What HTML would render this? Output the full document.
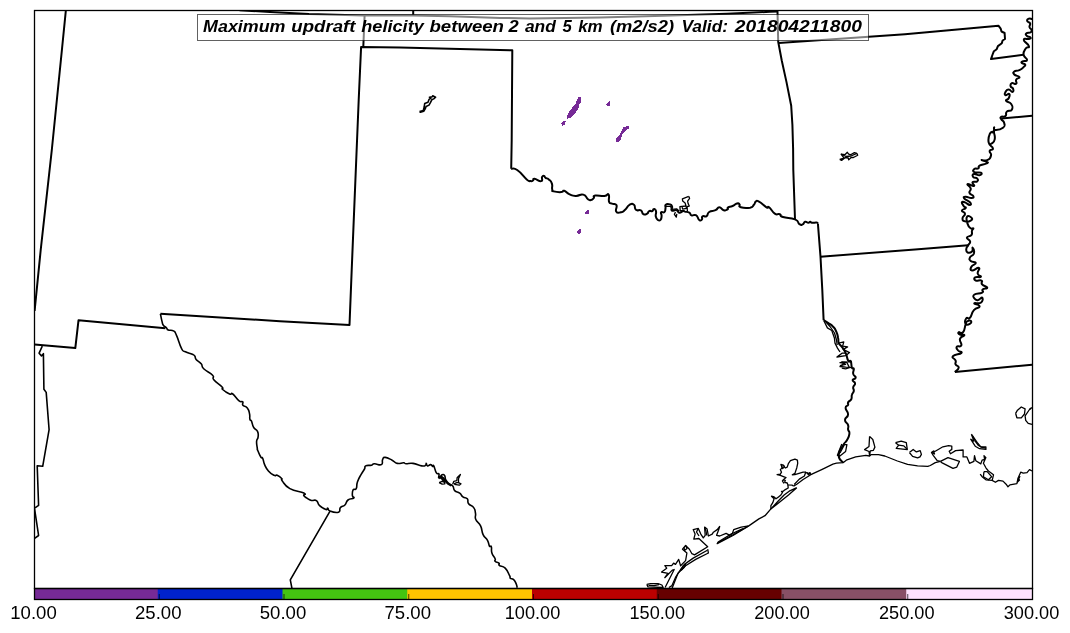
<!DOCTYPE html>
<html><head><meta charset="utf-8"><title>Maximum updraft helicity</title>
<style>
html,body{margin:0;padding:0;background:#fff;}
body{width:1070px;height:633px;overflow:hidden;position:relative;font-family:"Liberation Sans",sans-serif;}
</style></head><body>
<svg width="1070" height="633" viewBox="0 0 1070 633" style="position:absolute;left:0;top:0">
<rect x="0" y="0" width="1070" height="633" fill="#fff"/>
<defs><clipPath id="ax"><rect x="34.5" y="10.5" width="998.0" height="578.0"/></clipPath></defs>
<g clip-path="url(#ax)">
<path d="M578.2,97.1 L581.0,97.1 L581.0,102.1 L578.9,105.4 L578.4,108.7 L575.1,113.4 L571.3,117.7 L567.5,118.6 L567.1,115.3 L569.9,110.6 L575.6,103.5 L577.5,99.2 Z" fill="#762a96" stroke="none" shape-rendering="crispEdges"/>
<path d="M560.9,123.4 L563.3,121.0 L565.9,121.2 L564.2,125.3 L562.3,125.8 Z" fill="#762a96" stroke="none" shape-rendering="crispEdges"/>
<path d="M605.9,104.4 L609.2,101.1 L609.9,101.1 L609.9,105.9 L607.8,105.9 Z" fill="#762a96" stroke="none" shape-rendering="crispEdges"/>
<path d="M623.5,127.2 L628.7,125.9 L628.7,128.6 L624.9,131.0 L622.5,134.3 L620.1,141.4 L616.2,141.7 L616.2,138.6 L619.2,135.7 L621.6,130.5 Z" fill="#762a96" stroke="none" shape-rendering="crispEdges"/>
<path d="M585.1,214.0 L589.1,214.0 L589.1,210.0 L587.3,210.4 L585.1,212.8 Z" fill="#762a96" stroke="none" shape-rendering="crispEdges"/>
<path d="M577.0,231.7 L579.7,229.0 L580.9,229.1 L580.9,232.9 L579.0,233.9 L577.4,232.9 Z" fill="#762a96" stroke="none" shape-rendering="crispEdges"/>
<g fill="none" stroke="#000" stroke-linejoin="round" stroke-linecap="butt">
<g stroke-width="1.3">
<path d="M688.7,196.4 L682.4,198.8 L682.7,201.1 L685.1,203.0 L686.0,206.0 L679.9,206.6 L680.2,210.5 L683.2,211.0"/>
<path d="M688.7,196.4 L689.6,198.3 L687.6,201.1 L688.2,203.8 L689.3,206.0 L687.1,206.6 L687.4,211.5"/>
<path d="M686.0,206.0 L686.5,208.3 L682.7,209.1 L682.1,207.1"/>
<path d="M675.5,212.1 L674.4,214.3 L676.3,217.1 L676.8,213.8"/>
<path d="M666.0,206.3 L670.5,206.3 L671.8,209.3 L676.6,208.8 L679.3,211.3"/>
<path d="M839.7,159.4 L844.0,158.0 L841.1,154.2 L844.9,154.7 L847.3,152.3 L848.7,154.2 L850.6,154.7 L854.4,152.6 L856.8,153.3 L857.7,155.2 L853.4,157.5 L851.1,157.5 L848.7,159.9 L848.2,158.0 L845.4,157.5 L841.6,160.4 L839.7,159.4"/>
<path d="M841.1,154.2 L846.0,156.5 L851.0,156.0 L856.8,153.3"/>
<path d="M439.1,482.7 L442.1,481.3 L444.4,482.1 L444.9,483.8 L442.1,484.1 L439.1,482.7"/>
<path d="M452.7,484.3 L453.8,481.3 L456.8,480.7 L457.1,477.7 L460.4,474.4 L458.5,478.8 L458.5,482.7 L461.0,483.8 L459.3,485.2 L454.3,484.3"/>
<path d="M453.8,483.8 L456.8,482.7 L458.5,482.7"/>
<path d="M824.0,321.0 L827.4,327.9 L831.8,330.5 L834.4,338.0 L835.0,343.1 L837.5,348.1 L840.0,352.0"/>
<path d="M826.0,322.0 L830.0,326.5 L834.5,333.0 L836.5,340.0 L837.2,345.0"/>
<path d="M838.8,343.1 L843.8,341.8 L842.6,346.2 L847.6,346.9 L843.2,349.4 L849.5,352.6 L845.7,355.7 L836.9,357.0 L842.0,353.2 L845.7,353.2"/>
<path d="M848.3,360.8 L851.4,361.4 L840.0,362.7 L844.5,363.3 L840.0,366.5 L845.7,367.1 L851.9,367.6"/>
<path d="M839.9,365.7 L845.6,364.4 L841.8,361.9 L846.9,362.5 L849.4,367.6 L845.6,368.8 L841.8,368.2"/>
<path d="M841.8,444.0 L837.4,455.3 L839.9,456.0 L845.6,451.5 L846.9,444.6 L844.4,444.6 L840.0,453.0"/>
<path d="M793.6,486.1 L796.8,484.2 L803.1,479.5 L810.8,474.7 L822.2,469.3 L832.9,464.2 L836.5,463.2 L843.1,462.7 L846.9,459.8 L855.7,456.9 L865.8,455.3 L869.6,456.0 L870.9,454.7 L878.5,454.7 L884.8,456.0 L897.4,461.0 L907.6,464.4 L917.6,465.8 L927.8,466.4 L930.3,465.5 L935.3,462.6 L940.4,461.4"/>
<path d="M869.6,436.4 L869.0,446.5 L864.6,449.6 L869.0,451.5 L869.6,455.3 L870.3,450.9 L873.4,450.3 L874.9,447.1 L872.8,439.5 L869.6,436.4"/>
<path d="M895.5,442.7 L901.2,441.2 L906.3,442.7 L907.3,449.6 L896.2,448.4 L898.7,445.2 L895.5,442.7"/>
<path d="M898.7,445.2 L903.8,445.9 L906.9,449.0"/>
<path d="M909.4,452.5 L913.2,449.4 L916.4,451.9 L920.2,450.6 L921.4,454.4 L920.0,456.8 L917.6,457.8 L912.6,456.3 L909.4,452.5"/>
<path d="M940.4,461.4 L937.2,460.7 L933.4,455.7 L931.5,452.5 L935.3,451.2 L942.9,446.8 L948.6,445.6 L951.8,446.2 L951.8,449.4 L949.2,451.2 L950.5,453.8 L955.6,450.6 L963.1,450.0 L963.1,456.9 L966.9,456.9 L969.5,463.3 L973.9,461.4 L974.5,455.7 L975.8,460.7 L980.8,463.9 L982.1,460.1 L984.6,459.5 L984.0,455.7 L985.9,457.6 L983.4,463.3 L985.9,467.8 L988.4,471.0 L993.5,474.8 L992.2,480.4 L995.4,482.3 L998.5,480.4 L1003.0,481.1 L1006.1,484.2 L1008.0,486.8 L1009.9,484.9 L1016.9,483.6 L1018.1,477.9 L1020.7,472.2 L1023.2,473.1 L1027.0,472.6 L1029.5,469.7 L1032.0,471.0"/>
<path d="M931.5,452.5 L933.5,451.0 L934.5,454.0 L931.5,452.5"/>
<path d="M940.4,461.4 L948.0,457.6 L959.4,461.4 L956.8,467.1 L953.0,468.3 L941.7,462.6 L940.4,461.4"/>
<path d="M980.2,474.1 L982.1,476.7 L985.9,479.8 L992.2,480.4"/>
<path d="M984.0,471.6 L983.4,476.7 L988.4,479.8 L991.6,476.7 L987.2,471.6 L984.0,471.6"/>
<path d="M1018.1,477.9 L1019.5,480.0 L1017.5,482.0 L1020.0,476.0"/>
<path d="M971.4,434.2 L977.1,442.4 L980.8,446.8 L985.9,446.8 L985.9,449.4 L979.6,448.7 L975.2,446.2 L970.7,439.2 L973.9,441.1 L971.4,434.2"/>
<path d="M972.5,436.0 L975.5,441.5 L978.5,445.5 L982.0,447.5 L985.9,448.0"/>
<path d="M1015.6,413.3 L1017.5,410.2 L1021.3,407.0 L1025.1,408.9 L1024.5,414.0 L1021.3,417.8 L1016.9,417.8 L1015.6,413.3"/>
<path d="M1032.0,407.6 L1029.5,409.5 L1025.1,415.9 L1025.7,420.3 L1028.2,423.4 L1032.0,424.3"/>
<path d="M1029.5,409.5 L1031.0,408.0"/>
<path d="M805.7,472.2 L803.1,472.2 L794.9,474.7 L792.3,474.8 L794.9,473.4 L796.8,467.7 L797.7,463.3 L797.4,460.1 L794.9,459.1 L790.4,460.7 L788.5,463.3 L787.2,467.1 L785.3,468.0 L783.4,465.2 L780.9,464.5 L782.2,467.7 L780.3,469.6 L781.5,472.2 L780.3,474.1 L777.1,474.7 L780.3,475.3 L786.0,477.6 L783.4,479.8 L785.3,480.4 L784.7,482.3 L787.2,483.0 L787.9,484.9 L792.3,485.2 L793.6,486.1"/>
<path d="M787.9,484.9 L788.2,488.0 L785.3,489.6 L782.8,491.5 L781.5,491.5 L782.5,492.5 L780.9,495.0 L778.5,496.9 L776.0,498.8 L774.1,496.9 L771.5,496.2 L774.1,498.8 L772.8,502.6 L770.9,505.7 L770.9,508.9"/>
<path d="M783.4,465.2 L784.4,467.0 L782.6,468.5 L781.6,466.0"/>
<path d="M783.4,479.8 L782.4,481.0 L784.0,483.5"/>
<path d="M810.8,474.7 L809.5,472.8 L808.0,473.6 L805.7,472.2 L804.4,476.0 L799.3,479.1 L794.2,484.5"/>
<path d="M807.0,472.3 L808.5,474.8 L810.0,472.6 L810.5,474.8"/>
<path d="M796.8,487.7 L789.2,491.2 L784.1,495.0 L778.5,500.7 L770.9,508.9 L776.0,505.1 L788.5,495.0 L796.8,487.7"/>
<path d="M770.9,508.9 L765.0,515.7 L758.9,518.9 L748.8,525.9"/>
<path d="M748.8,525.9 L741.2,527.1 L733.7,529.6 L732.4,533.4 L729.9,535.3 L726.1,533.4 L719.7,536.0 L716.6,535.3 L718.5,530.3 L719.7,526.5 L717.2,529.6 L713.4,532.2 L712.2,534.1 L708.4,536.0 L707.1,529.0 L704.6,527.1 L705.2,535.3 L703.3,537.9 L700.8,534.1 L698.3,528.4 L693.2,529.6 L695.1,534.1 L693.8,539.1 L698.9,538.5 L707.7,546.7 L694.5,554.9 L691.9,553.7 L689.4,549.2 L685.6,545.5 L682.5,549.2 L686.9,553.0 L685.6,560.6 L680.6,565.7 L678.7,559.4 L675.5,564.4 L673.6,563.1 L671.7,565.7 L664.8,565.7 L666.7,568.2 L661.6,572.0 L667.9,573.3 L664.8,577.7 L672.3,570.1 L674.2,569.5 L665.1,587.5"/>
<path d="M685.6,545.5 L687.0,548.5 L684.5,550.5 L684.0,547.0"/>
<path d="M704.6,527.1 L706.0,531.0 L706.8,535.5"/>
<path d="M698.3,528.4 L696.5,532.0 L699.0,536.0"/>
<path d="M748.8,525.9 L733.0,535.5 L717.2,543.6 L718.5,541.7 L731.1,534.1 L743.0,528.5"/>
<path d="M717.5,543.0 L733.0,534.8 L748.0,526.2"/>
<path d="M707.7,549.2 L708.4,553.0 L695.7,559.4 L685.6,565.7 L678.0,573.3 L672.0,588.4"/>
<path d="M707.4,550.2 L693.2,558.1 L684.4,564.4 L680.6,569.5 L675.8,576.8 L672.0,585.6 L668.9,587.5"/>
<path d="M686.0,564.1 L683.0,566.0 L681.5,570.0 L684.0,567.5 L686.0,564.1"/>
<path d="M646.8,584.4 L650.6,583.7 L658.1,583.7 L661.9,585.0 L663.2,587.5 L648.0,586.9 L646.8,584.4"/>
<path d="M648.5,585.3 L654.0,585.6 L659.0,584.6"/>
</g>
<g stroke-width="1.6">
<path d="M42.3,346.1 L39.1,353.2 L41.5,355.9 L43.4,353.7 L43.9,389.2 L46.2,392.4 L49.1,429.7 L42.7,466.3 L37.2,465.8 L37.7,480.0 L38.6,505.3 L34.6,508.1"/>
<path d="M34.6,509.0 L38.6,535.5 L34.6,538.3"/>
<path d="M329.9,511.3 L290.3,579.8 L291.9,588.1"/>
<path d="M419.5,111.5 L423.3,110.5 L424.2,107.0 L424.7,103.6 L428.0,102.2 L429.0,99.4 L430.9,98.2 L429.4,97.2 L432.3,96.8 L432.7,95.8 L435.6,97.2 L433.7,98.9 L431.8,99.8 L430.4,102.7 L429.0,105.1 L426.1,106.5 L425.2,108.9 L423.7,111.2 L420.4,112.2 L419.5,111.5"/>
</g>
<g stroke-width="1.6">
<path d="M160.4,313.8 C160.8,315.8 161.2,318.4 162.0,321.4 C162.8,324.4 162.1,323.5 163.3,325.2 C164.5,326.9 165.1,326.5 166.4,327.8 C167.7,329.1 166.4,329.2 168.3,330.0 C170.2,330.8 171.2,329.5 173.4,330.9 C175.6,332.3 174.3,330.6 176.5,335.3 C178.7,340.0 179.2,344.2 181.6,348.6 C184.0,353.0 182.5,350.3 185.4,351.8 C188.3,353.3 189.8,353.1 192.3,354.3 C194.8,355.5 193.9,354.8 194.9,356.2 C195.9,357.6 194.4,357.4 196.1,359.4 C197.8,361.4 199.2,361.3 201.2,363.8 C203.2,366.3 200.7,365.8 203.7,368.8 C206.7,371.8 209.9,372.3 212.6,375.2 C215.3,378.1 211.3,376.7 213.8,379.8 C216.3,382.9 219.7,384.4 222.1,387.0 C224.5,389.6 220.7,387.6 222.7,389.5 C224.7,391.4 226.9,392.8 229.6,394.0 C232.3,395.2 230.3,392.2 232.8,394.0 C235.3,395.8 236.5,398.8 239.1,400.9 C241.7,403.0 241.7,400.6 242.7,401.8 C243.7,403.0 241.7,403.7 242.9,405.3 C244.1,406.9 245.5,405.7 247.3,407.9 C249.1,410.1 248.8,410.6 249.5,413.6 C250.2,416.6 249.4,417.2 249.9,419.2 C250.4,421.2 250.5,418.9 251.5,421.1 C252.5,423.3 252.1,424.8 253.7,427.5 C255.3,430.2 256.3,428.8 257.5,431.3 C258.7,433.8 258.3,434.2 258.1,436.9 C257.9,439.6 256.8,438.4 256.6,441.4 C256.4,444.4 257.0,446.0 257.3,448.3 C257.6,450.6 256.7,447.8 257.6,450.1 C258.5,452.4 259.4,454.8 260.8,457.0 C262.2,459.2 261.7,456.3 262.7,458.3 C263.7,460.3 263.1,461.2 264.6,464.6 C266.1,468.0 265.9,468.0 268.4,470.9 C270.9,473.8 271.8,474.1 274.1,475.3 C276.4,476.5 275.2,474.4 277.2,475.3 C279.2,476.2 280.3,477.0 281.7,478.5 C283.1,480.0 280.1,478.3 282.3,481.0 C284.5,483.7 284.2,485.4 289.9,488.6 C295.6,491.8 300.1,491.1 303.8,493.0 C307.5,494.9 303.0,494.2 303.8,495.6 C304.6,497.0 304.9,496.8 306.9,498.1 C308.9,499.4 308.9,499.7 311.4,500.4 C313.9,501.1 314.2,499.2 316.4,500.6 C318.6,502.0 317.1,503.3 319.6,505.7 C322.1,508.1 323.7,508.8 325.9,509.5 C328.1,510.2 326.7,507.8 327.8,508.2 C328.9,508.6 327.0,509.9 329.9,511.0 C332.8,512.1 335.7,513.1 338.5,512.2 C341.3,511.3 338.7,509.5 340.4,507.6 C342.1,505.7 342.9,507.0 344.9,505.0 C346.9,503.0 345.7,501.8 348.0,500.0 C350.3,498.2 352.5,499.3 353.7,498.1 C354.9,496.9 352.6,497.8 352.4,495.6 C352.2,493.4 352.1,491.8 353.1,489.9 C354.1,488.0 355.0,490.8 356.2,488.6 C357.4,486.4 356.1,485.6 357.5,481.7 C358.9,477.8 359.4,477.5 361.3,474.1 C363.2,470.7 363.3,471.2 364.5,469.0 C365.7,466.8 363.9,466.9 365.7,465.9 C367.5,464.9 369.1,465.8 371.4,465.2 C373.7,464.6 371.7,464.0 374.4,463.8 C377.1,463.6 379.2,465.7 381.4,464.6 C383.6,463.5 381.6,461.5 382.6,459.6 C383.6,457.7 382.7,457.2 385.2,457.4 C387.7,457.6 388.9,458.6 392.1,460.2 C395.3,461.8 394.2,462.7 397.2,463.4 C400.2,464.1 401.2,462.7 403.5,462.8 C405.8,462.9 403.5,463.6 406.0,463.8 C408.5,464.0 408.8,462.8 413.0,463.4 C417.2,464.0 418.4,465.4 421.8,465.9 C425.2,466.4 424.4,466.0 425.6,465.3 C426.8,464.6 425.8,463.2 426.3,463.4 C426.8,463.6 426.3,465.6 427.5,465.9 C428.7,466.2 429.3,464.4 430.7,464.6 C432.1,464.8 431.8,466.2 432.6,466.5 C433.4,466.8 432.8,464.2 433.8,465.9 C434.8,467.6 435.0,470.8 436.4,472.9 C437.8,475.0 438.2,472.6 438.9,473.9 C439.6,475.2 438.0,477.7 438.9,477.9 C439.8,478.1 440.6,475.5 442.1,474.8 C443.6,474.1 443.6,474.1 444.6,475.4 C445.6,476.7 444.6,477.6 445.8,479.8 C447.0,482.0 447.1,481.9 449.0,483.6 C450.9,485.3 451.3,484.2 452.8,486.1 C454.3,488.0 452.9,488.7 454.7,490.6 C456.5,492.5 457.5,491.4 459.7,493.1 C461.9,494.8 460.9,495.4 462.9,496.9 C464.9,498.4 465.8,497.0 467.3,498.8 C468.8,500.6 466.9,501.5 468.6,503.8 C470.3,506.1 471.9,505.1 473.7,507.6 C475.5,510.1 474.9,510.1 475.5,513.3 C476.1,516.5 474.4,516.2 475.8,519.5 C477.2,522.8 478.7,521.8 480.6,525.8 C482.5,529.8 481.3,530.7 483.1,534.6 C484.9,538.5 485.8,537.3 487.5,540.3 C489.2,543.3 488.4,544.3 489.4,546.0 C490.4,547.7 490.6,544.8 491.3,546.7 C492.0,548.6 490.9,549.8 491.9,553.0 C492.9,556.2 494.2,556.5 495.1,558.7 C496.0,560.9 494.1,560.0 495.1,561.2 C496.1,562.4 497.7,561.9 498.9,563.1 C500.1,564.3 497.8,564.3 499.5,565.6 C501.2,566.9 502.5,565.4 505.2,568.1 C507.9,570.8 508.2,573.0 509.6,575.7 C511.0,578.4 509.3,577.3 510.3,578.3 C511.3,579.3 511.9,578.0 513.4,579.3 C514.9,580.6 515.0,581.1 516.0,583.3 C517.0,585.5 516.9,586.5 517.2,587.7"/>
</g>
<g stroke-width="2.0">
<path d="M65.9,10.0 L62.1,48.0 L51.8,150.0 L40.7,250.0 L34.6,311.0"/>
<path d="M34.6,344.5 L75.3,348.1 L78.5,320.3 L165.4,328.3"/>
<path d="M160.4,313.8 L280.0,321.2 L349.5,325.0 L351.7,270.0 L358.7,100.0 L361.1,46.9 L400.0,47.5 L512.3,50.3 L511.7,140.0 L511.2,168.8"/>
<path d="M817.9,223.6 L820.5,256.7 L822.3,290.0 L823.6,320.1"/>
<path d="M364.6,15.6 L363.3,46.9 L361.1,46.9"/>
<path d="M239.5,10.3 L270.0,12.0 L309.0,14.0 L363.5,15.4 L413.0,15.6 L450.0,16.3 L500.0,17.9 L530.0,18.4 L600.0,17.4 L663.6,15.8 L727.0,13.7 L770.0,11.8 L777.5,11.6"/>
<path d="M413.2,10.0 L413.2,15.6"/>
<path d="M777.3,10.0 L777.5,11.7 L778.2,41.8 L781.8,60.8 L786.5,82.1 L791.2,105.8 L792.4,124.8 L793.1,148.5 L793.3,170.0 L795.0,219.3"/>
<path d="M778.6,43.0 L905.0,34.3 L998.6,25.8 L1000.7,28.7 L1001.5,31.5 L1004.6,33.0 L1005.0,39.0 L1002.6,40.5 L1001.8,43.3 L997.9,46.1 L996.7,49.2 L993.9,51.2 L992.4,55.0 L991.0,59.1 L1023.4,54.7"/>
<path d="M954.9,372.0 L1032.0,364.7"/>
<path d="M1001.5,118.6 L1032.0,115.8"/>
<path d="M820.5,256.7 L915.0,249.4 L968.2,245.2"/>
<path d="M439.2,478.3 L441.6,476.8 L443.6,478.2 L445.3,481.0 L447.8,483.6 L451.3,485.6"/>
<path d="M440.5,476.5 L442.5,479.5 L445.0,482.3"/>
<path d="M511.2,168.8 C513.0,169.2 512.6,166.8 517.2,170.0 C521.9,173.2 522.7,176.1 526.7,179.4 C530.7,182.7 528.6,180.8 530.5,181.1 C532.4,181.4 531.8,181.2 533.0,180.5 C534.2,179.8 532.0,178.6 534.5,178.8 C537.0,179.0 538.9,181.7 541.2,181.1 C543.5,180.5 541.2,178.4 542.1,176.9 C543.0,175.4 543.1,175.7 544.1,176.0 C545.1,176.3 544.2,176.9 545.6,177.9 C547.0,178.9 546.9,177.7 548.8,179.4 C550.7,181.1 550.9,180.6 551.9,183.6 C552.9,186.6 551.6,187.0 552.2,189.3 C552.8,191.6 551.0,190.6 553.8,191.4 C556.6,192.2 558.2,192.3 561.4,192.1 C564.5,191.9 561.8,190.1 564.3,190.8 C566.8,191.5 566.1,192.9 569.6,194.4 C573.1,195.9 571.9,195.8 576.0,195.9 C580.1,196.0 579.7,193.6 583.3,194.6 C586.9,195.6 585.7,197.6 588.0,199.2 C590.3,200.8 589.4,200.3 591.1,200.0 C592.8,199.7 592.5,199.4 593.7,198.1 C594.9,196.8 592.0,196.2 595.2,195.6 C598.4,195.0 600.4,196.3 604.4,196.0 C608.4,195.7 607.2,192.9 608.6,194.7 C610.0,196.5 608.1,199.2 609.1,201.9 C610.1,204.6 609.8,202.6 612.0,203.6 C614.2,204.6 615.1,202.8 616.4,205.1 C617.7,207.4 614.9,209.2 616.2,211.4 C617.5,213.6 618.0,212.8 620.7,212.3 C623.4,211.8 622.5,212.1 625.1,209.8 C627.7,207.6 626.8,206.3 629.5,204.8 C632.2,203.3 632.1,203.3 634.0,204.8 C635.9,206.3 633.8,208.1 635.9,209.8 C638.0,211.5 638.6,209.1 640.9,210.4 C643.1,211.7 641.5,213.2 643.4,214.2 C645.3,215.2 645.5,214.5 647.2,213.6 C648.9,212.7 647.6,211.8 649.1,211.1 C650.6,210.3 650.9,211.7 652.3,211.1 C653.6,210.5 652.7,209.6 653.6,209.2 C654.5,208.8 654.5,208.7 655.2,209.6 C656.0,210.5 655.9,210.0 656.1,212.1 C656.3,214.2 655.3,214.2 655.8,216.5 C656.3,218.8 656.4,218.9 657.8,219.9 C659.2,220.9 659.4,221.1 660.5,219.9 C661.6,218.7 661.4,218.3 661.6,216.0 C661.8,213.7 660.3,213.5 661.1,212.3 C661.9,211.1 663.1,213.3 664.4,212.1 C665.7,210.9 665.1,210.5 665.5,208.3 C665.9,206.1 664.5,205.9 665.8,204.7 C667.1,203.5 668.0,203.8 669.9,204.4 C671.8,205.0 671.5,204.8 672.1,206.6 C672.7,208.4 670.4,209.4 671.8,210.5 C673.1,211.6 674.4,209.5 676.6,210.2 C678.9,210.9 677.3,212.5 679.3,212.7 C681.3,212.9 681.5,211.3 683.2,211.0 C684.9,210.7 683.1,211.1 684.9,211.6 C686.7,212.1 687.3,211.6 689.3,212.7 C691.3,213.8 689.5,214.7 691.5,215.4 C693.5,216.2 693.7,214.0 695.9,215.2 C698.1,216.4 697.4,217.7 698.7,219.3 C700.1,220.9 699.4,220.4 700.4,220.4 C701.4,220.4 701.3,220.5 702.0,219.3 C702.7,218.1 701.2,217.3 702.6,216.3 C704.0,215.3 704.6,217.4 706.6,216.1 C708.6,214.8 706.5,213.8 709.2,212.0 C711.9,210.2 712.5,211.6 715.5,210.2 C718.5,208.8 716.8,207.3 719.3,207.3 C721.8,207.3 721.2,209.6 723.7,210.2 C726.2,210.8 726.2,210.3 727.5,209.4 C728.8,208.5 726.6,208.3 728.1,207.3 C729.6,206.3 729.9,207.1 732.6,206.0 C735.3,204.9 734.9,204.0 737.0,203.5 C739.1,203.0 738.4,203.3 739.5,204.4 C740.6,205.5 737.6,206.3 740.8,207.3 C744.0,208.3 746.2,208.4 750.1,207.7 C754.0,206.9 752.2,206.6 753.9,204.8 C755.6,203.0 754.3,202.6 755.8,201.6 C757.3,200.6 755.8,199.9 759.0,201.6 C762.2,203.3 763.5,205.6 766.5,207.3 C769.5,209.0 766.6,205.4 769.1,207.3 C771.6,209.2 771.6,211.5 774.8,213.6 C778.0,215.7 777.3,213.2 779.8,214.2 C782.3,215.2 778.4,215.5 783.0,217.0 C787.6,218.5 790.1,217.2 795.0,219.3 C799.9,221.4 797.1,222.6 799.4,224.1 C801.7,225.6 800.9,225.1 802.6,224.4 C804.3,223.7 803.4,222.3 805.1,221.8 C806.8,221.3 806.8,222.8 808.3,222.8 C809.8,222.8 809.1,221.8 810.2,221.8 C811.3,221.8 810.2,222.6 812.1,222.8 C814.0,223.0 814.8,222.3 816.5,222.5 C818.2,222.7 817.5,223.3 817.9,223.6"/>
<path d="M823.6,320.1 C824.9,320.9 825.1,320.9 828.0,322.9 C830.9,324.9 830.6,324.1 833.1,326.7 C835.6,329.3 834.8,328.3 836.3,331.7 C837.8,335.1 837.4,334.6 838.1,338.0 C838.9,341.4 837.7,340.4 838.8,343.1 C839.9,345.8 839.8,343.9 841.9,346.9 C844.0,349.9 843.8,349.0 845.7,353.2 C847.6,357.4 846.8,358.4 848.3,360.8 C849.8,363.2 849.6,359.3 850.7,361.3 C851.8,363.3 851.0,365.4 851.9,367.6 C852.8,369.9 853.4,366.9 853.8,368.8 C854.2,370.7 852.6,371.2 853.2,373.9 C853.8,376.6 855.9,375.8 855.7,377.7 C855.5,379.6 852.8,378.5 852.6,380.2 C852.4,381.9 854.9,381.3 855.1,383.4 C855.3,385.5 853.6,384.9 853.2,387.2 C852.8,389.5 854.2,388.7 853.8,391.0 C853.4,393.3 852.6,392.3 851.9,394.8 C851.1,397.3 852.4,396.9 851.3,399.2 C850.2,401.4 849.1,400.6 848.1,402.3 C847.1,404.0 848.9,403.2 848.1,404.9 C847.4,406.6 845.6,405.1 845.6,408.0 C845.6,410.9 848.3,410.8 848.1,414.4 C847.9,418.0 845.0,416.8 845.0,420.0 C845.0,423.2 847.2,422.2 848.1,425.1 C849.0,428.0 847.7,426.9 848.1,429.5 C848.5,432.1 849.8,430.6 849.4,433.8 C849.0,437.0 848.8,436.8 846.9,440.2 C845.0,443.6 845.6,440.7 843.1,445.2 C840.6,449.7 838.7,450.1 838.7,455.3 C838.7,460.6 841.8,460.5 843.1,462.7"/>
<path d="M1032.0,18.9 C1030.9,18.9 1029.6,18.1 1028.2,18.9 C1026.8,19.6 1026.8,20.1 1027.4,21.4 C1028.0,22.7 1029.5,21.6 1030.1,23.3 C1030.7,25.0 1029.1,25.2 1029.5,27.1 C1029.9,29.0 1031.0,28.1 1031.4,29.6 C1031.8,31.1 1032.3,31.1 1030.8,32.2 C1029.3,33.3 1027.4,32.3 1026.3,33.4 C1025.2,34.5 1025.9,34.9 1027.0,36.0 C1028.1,37.1 1029.3,36.3 1030.1,37.2 C1030.8,38.1 1031.4,38.1 1029.5,38.9 C1027.6,39.7 1024.0,37.6 1023.8,39.8 C1023.6,42.0 1028.3,43.5 1028.9,46.1 C1029.5,48.7 1027.3,46.0 1025.7,48.6 C1024.1,51.2 1023.2,51.3 1023.6,54.7 C1024.0,58.1 1027.3,58.0 1027.0,60.0 C1026.7,62.0 1024.1,60.3 1022.6,61.3 C1021.1,62.3 1021.1,62.3 1021.9,63.2 C1022.6,64.1 1024.5,63.3 1025.1,64.4 C1025.7,65.5 1025.5,65.2 1023.8,66.9 C1022.1,68.6 1022.2,68.8 1019.4,70.1 C1016.5,71.4 1015.8,70.1 1014.3,71.4 C1012.8,72.7 1012.8,72.8 1014.3,74.5 C1015.8,76.2 1018.8,75.6 1019.4,77.1 C1020.0,78.6 1017.2,77.6 1016.2,79.6 C1015.2,81.6 1017.5,82.7 1016.2,83.8 C1014.9,84.9 1013.5,82.5 1011.8,83.2 C1010.1,84.0 1010.2,84.6 1010.6,86.3 C1011.0,88.0 1012.6,87.1 1013.1,88.8 C1013.6,90.5 1013.7,91.8 1012.4,92.0 C1011.1,92.2 1010.8,89.5 1008.7,89.5 C1006.6,89.5 1006.5,90.3 1005.5,92.0 C1004.5,93.7 1004.4,94.6 1005.5,95.2 C1006.6,95.8 1008.3,93.0 1009.3,93.9 C1010.3,94.8 1009.7,96.2 1008.7,98.3 C1007.7,100.4 1005.4,99.2 1006.1,100.9 C1006.9,102.6 1009.5,101.4 1011.2,104.0 C1012.9,106.6 1013.1,107.4 1011.8,109.7 C1010.5,112.0 1008.7,109.7 1006.8,111.6 C1004.9,113.5 1007.2,114.4 1005.5,116.0 C1003.8,117.6 1002.4,115.9 1001.1,116.9 C999.8,117.9 1000.4,117.4 1001.3,119.2 C1002.2,121.0 1003.7,120.4 1004.2,123.0 C1004.7,125.6 1005.6,125.7 1003.0,127.8 C1000.4,129.9 998.1,130.0 995.4,129.9 C992.7,129.8 994.7,126.8 994.1,127.4 C993.5,128.0 994.8,129.9 993.5,131.8 C992.2,133.7 991.3,130.5 989.9,133.7 C988.5,136.9 988.0,139.8 988.7,142.6 C989.4,145.4 990.4,144.2 992.2,143.2 C994.0,142.2 994.1,142.4 994.7,139.4 C995.3,136.4 994.5,135.4 994.1,133.1 C993.7,130.8 994.8,131.6 993.5,131.8 C992.2,132.0 991.3,130.5 989.9,133.7 C988.5,136.9 987.8,138.2 988.7,142.6 C989.6,147.0 992.6,145.8 992.9,148.3 C993.2,150.8 990.3,148.6 989.7,150.8 C989.1,153.0 991.8,152.8 991.0,155.6 C990.2,158.4 990.1,158.8 987.2,160.1 C984.4,161.4 981.5,159.5 981.5,160.1 C981.5,160.7 985.9,160.9 987.2,162.0 C988.5,163.1 988.2,162.5 985.9,163.6 C983.6,164.7 981.9,164.3 979.6,165.7 C977.3,167.1 979.9,167.3 978.3,168.3 C976.7,169.3 975.5,167.8 974.3,168.9 C973.1,170.0 972.3,171.0 974.3,172.1 C976.2,173.2 979.2,171.8 980.8,172.7 C982.4,173.6 981.7,174.8 979.6,175.2 C977.5,175.6 975.8,173.4 973.9,174.0 C972.0,174.6 972.3,175.8 973.3,177.1 C974.3,178.4 976.0,177.1 977.1,178.4 C978.2,179.7 978.5,180.4 977.1,181.5 C975.8,182.6 973.6,180.8 972.6,182.2 C971.6,183.5 975.4,185.4 973.9,186.0 C972.4,186.6 968.6,183.3 967.6,184.1 C966.6,184.8 970.1,185.9 970.7,188.5 C971.3,191.1 968.7,190.6 969.5,192.9 C970.3,195.2 972.7,194.6 973.3,196.1 C973.9,197.6 973.7,197.8 971.4,198.0 C969.1,198.2 967.8,196.5 965.7,196.7 C963.6,196.9 963.1,196.9 964.4,198.6 C965.7,200.3 968.6,200.5 970.1,202.4 C971.6,204.3 971.0,204.9 969.5,204.9 C968.0,204.9 967.3,203.2 965.0,202.4 C962.7,201.7 962.3,201.3 961.9,202.4 C961.5,203.5 962.7,204.5 963.8,206.2 C964.9,207.9 966.3,206.8 965.7,208.1 C965.1,209.4 962.1,208.9 961.9,210.6 C961.7,212.3 964.8,211.5 965.0,213.8 C965.2,216.1 962.5,215.9 962.5,218.2 C962.5,220.5 962.5,220.7 965.0,221.4 C967.5,222.2 968.8,221.8 970.7,220.7 C972.6,219.6 972.5,218.7 971.4,217.6 C970.3,216.5 968.0,215.0 966.9,216.9 C965.8,218.8 966.5,220.5 967.6,223.9 C968.7,227.3 969.0,227.0 970.7,228.3 C972.4,229.6 972.9,227.6 973.3,228.3 C973.7,229.1 972.6,228.8 972.0,230.8 C971.4,232.8 972.9,233.1 971.4,235.1 C969.9,237.1 967.3,235.7 966.9,237.6 C966.5,239.5 969.7,239.1 970.1,241.4 C970.5,243.7 969.3,242.9 968.2,245.2 C967.1,247.5 966.5,246.8 966.3,249.0 C966.1,251.2 965.9,251.8 967.6,252.5 C969.3,253.2 970.5,252.9 972.0,251.5 C973.5,250.1 972.0,247.1 972.6,247.7 C973.2,248.3 974.6,250.6 973.9,253.4 C973.1,256.2 971.1,254.9 970.1,257.2 C969.1,259.5 969.0,259.3 970.7,261.0 C972.4,262.7 975.6,261.2 975.8,262.9 C976.0,264.6 972.5,264.4 971.4,266.7 C970.3,269.0 969.8,270.1 972.0,270.5 C974.2,270.9 977.2,267.0 978.9,267.9 C980.6,268.8 977.1,270.9 977.7,273.6 C978.3,276.3 981.5,275.7 980.8,276.8 C980.0,277.9 976.7,276.3 975.2,277.4 C973.7,278.5 973.9,279.6 975.8,280.6 C977.7,281.6 979.6,279.5 981.5,280.6 C983.4,281.7 980.4,282.3 982.1,284.4 C983.8,286.5 987.0,286.0 987.2,287.5 C987.4,289.0 984.2,287.9 982.7,289.4 C981.2,290.9 984.6,291.1 982.1,292.6 C979.6,294.1 976.8,292.8 974.5,294.5 C972.2,296.2 973.3,296.6 974.3,298.3 C975.3,300.0 975.4,300.4 977.7,300.2 C980.0,300.0 981.2,296.9 982.1,297.6 C983.0,298.4 983.1,301.0 980.8,302.7 C978.5,304.4 974.7,302.2 974.3,303.3 C973.9,304.4 979.7,304.4 979.6,306.4 C979.5,308.4 976.8,306.7 973.9,310.1 C971.0,313.5 972.4,315.1 970.1,317.6 C967.8,320.1 967.6,316.4 966.3,318.3 C965.0,320.2 964.6,322.4 965.7,324.0 C966.8,325.6 968.6,324.7 970.1,323.7 C971.6,322.7 971.6,321.5 970.7,320.8 C969.8,320.1 968.5,320.5 967.0,321.5 C965.5,322.5 966.9,320.8 965.7,324.0 C964.5,327.2 965.2,329.7 963.1,332.2 C961.0,334.7 959.6,331.4 958.7,332.2 C957.8,332.9 958.3,333.8 960.0,334.7 C961.7,335.6 964.4,334.0 964.4,335.3 C964.4,336.6 960.9,335.9 960.0,338.9 C959.1,341.9 962.3,343.1 961.3,345.4 C960.3,347.7 957.8,345.2 956.8,346.7 C955.8,348.2 956.8,348.6 958.1,350.5 C959.5,352.4 962.8,351.3 961.3,353.0 C959.8,354.7 954.7,353.9 953.0,356.2 C951.3,358.5 954.8,358.1 955.6,360.6 C956.4,363.1 954.7,362.3 955.6,364.4 C956.5,366.5 958.9,365.3 958.7,367.6 C958.5,369.9 956.0,370.7 954.9,372.0"/>
</g></g></g>
<rect x="197.5" y="14.5" width="671" height="26" fill="#fff" fill-opacity="0.5" stroke="#000" stroke-opacity="0.62" stroke-width="1.0"/>
<g style="filter:grayscale(1)">
<text x="203.1" y="31.8" font-family="'Liberation Sans', sans-serif" font-weight="bold" font-style="italic" font-size="16.2" textLength="82.4" lengthAdjust="spacingAndGlyphs" fill="#000">Maximum</text>
<text x="291.3" y="31.8" font-family="'Liberation Sans', sans-serif" font-weight="bold" font-style="italic" font-size="16.2" textLength="64.1" lengthAdjust="spacingAndGlyphs" fill="#000">updraft</text>
<text x="361.2" y="31.8" font-family="'Liberation Sans', sans-serif" font-weight="bold" font-style="italic" font-size="16.2" textLength="62.6" lengthAdjust="spacingAndGlyphs" fill="#000">helicity</text>
<text x="429.5" y="31.8" font-family="'Liberation Sans', sans-serif" font-weight="bold" font-style="italic" font-size="16.2" textLength="74.5" lengthAdjust="spacingAndGlyphs" fill="#000">between</text>
<text x="508.6" y="31.8" font-family="'Liberation Sans', sans-serif" font-weight="bold" font-style="italic" font-size="16.2" textLength="10.2" lengthAdjust="spacingAndGlyphs" fill="#000">2</text>
<text x="524.9" y="31.8" font-family="'Liberation Sans', sans-serif" font-weight="bold" font-style="italic" font-size="16.2" textLength="30.9" lengthAdjust="spacingAndGlyphs" fill="#000">and</text>
<text x="562.4" y="31.8" font-family="'Liberation Sans', sans-serif" font-weight="bold" font-style="italic" font-size="16.2" textLength="9.3" lengthAdjust="spacingAndGlyphs" fill="#000">5</text>
<text x="578.2" y="31.8" font-family="'Liberation Sans', sans-serif" font-weight="bold" font-style="italic" font-size="16.2" textLength="24.5" lengthAdjust="spacingAndGlyphs" fill="#000">km</text>
<text x="609.9" y="31.8" font-family="'Liberation Sans', sans-serif" font-weight="bold" font-style="italic" font-size="16.2" textLength="64.2" lengthAdjust="spacingAndGlyphs" fill="#000">(m2/s2)</text>
<text x="681.4" y="31.8" font-family="'Liberation Sans', sans-serif" font-weight="bold" font-style="italic" font-size="16.2" textLength="46.7" lengthAdjust="spacingAndGlyphs" fill="#000">Valid:</text>
<text x="734.8" y="31.8" font-family="'Liberation Sans', sans-serif" font-weight="bold" font-style="italic" font-size="16.2" textLength="127.1" lengthAdjust="spacingAndGlyphs" fill="#000">201804211800</text>
</g>
<rect x="34.50" y="588.5" width="124.75" height="11.00" fill="#762a96"/>
<rect x="157.75" y="588.5" width="126.25" height="11.00" fill="#0022cc"/>
<rect x="282.50" y="588.5" width="126.25" height="11.00" fill="#44c411"/>
<rect x="407.25" y="588.5" width="126.25" height="11.00" fill="#ffc400"/>
<rect x="532.00" y="588.5" width="126.25" height="11.00" fill="#bb0000"/>
<rect x="656.75" y="588.5" width="126.25" height="11.00" fill="#660000"/>
<rect x="781.50" y="588.5" width="126.25" height="11.00" fill="#885066"/>
<rect x="906.25" y="588.5" width="126.25" height="11.00" fill="#fde2fd"/>
<line x1="159.25" y1="594.0" x2="159.25" y2="599.5" stroke="#000" stroke-width="0.7"/>
<line x1="284.00" y1="594.0" x2="284.00" y2="599.5" stroke="#000" stroke-width="0.7"/>
<line x1="408.75" y1="594.0" x2="408.75" y2="599.5" stroke="#000" stroke-width="0.7"/>
<line x1="533.50" y1="594.0" x2="533.50" y2="599.5" stroke="#000" stroke-width="0.7"/>
<line x1="658.25" y1="594.0" x2="658.25" y2="599.5" stroke="#000" stroke-width="0.7"/>
<line x1="783.00" y1="594.0" x2="783.00" y2="599.5" stroke="#000" stroke-width="0.7"/>
<line x1="907.75" y1="594.0" x2="907.75" y2="599.5" stroke="#000" stroke-width="0.7"/>
<rect x="34.5" y="588.5" width="998.0" height="11.00" fill="none" stroke="#000" stroke-width="1.3"/>
<rect x="34.5" y="10.5" width="998.0" height="578.00" fill="none" stroke="#000" stroke-width="1.3"/>
<g style="filter:grayscale(1)">
<text x="10.25" y="619.4" font-family="'Liberation Sans', sans-serif" font-size="17.6" textLength="46.5" lengthAdjust="spacingAndGlyphs" fill="#000">10.00</text>
<text x="135.00" y="619.4" font-family="'Liberation Sans', sans-serif" font-size="17.6" textLength="46.5" lengthAdjust="spacingAndGlyphs" fill="#000">25.00</text>
<text x="259.75" y="619.4" font-family="'Liberation Sans', sans-serif" font-size="17.6" textLength="46.5" lengthAdjust="spacingAndGlyphs" fill="#000">50.00</text>
<text x="384.50" y="619.4" font-family="'Liberation Sans', sans-serif" font-size="17.6" textLength="46.5" lengthAdjust="spacingAndGlyphs" fill="#000">75.00</text>
<text x="504.75" y="619.4" font-family="'Liberation Sans', sans-serif" font-size="17.6" textLength="55.5" lengthAdjust="spacingAndGlyphs" fill="#000">100.00</text>
<text x="629.50" y="619.4" font-family="'Liberation Sans', sans-serif" font-size="17.6" textLength="55.5" lengthAdjust="spacingAndGlyphs" fill="#000">150.00</text>
<text x="754.25" y="619.4" font-family="'Liberation Sans', sans-serif" font-size="17.6" textLength="55.5" lengthAdjust="spacingAndGlyphs" fill="#000">200.00</text>
<text x="879.00" y="619.4" font-family="'Liberation Sans', sans-serif" font-size="17.6" textLength="55.5" lengthAdjust="spacingAndGlyphs" fill="#000">250.00</text>
<text x="1003.75" y="619.4" font-family="'Liberation Sans', sans-serif" font-size="17.6" textLength="55.5" lengthAdjust="spacingAndGlyphs" fill="#000">300.00</text>
</g>
</svg>
</body></html>
